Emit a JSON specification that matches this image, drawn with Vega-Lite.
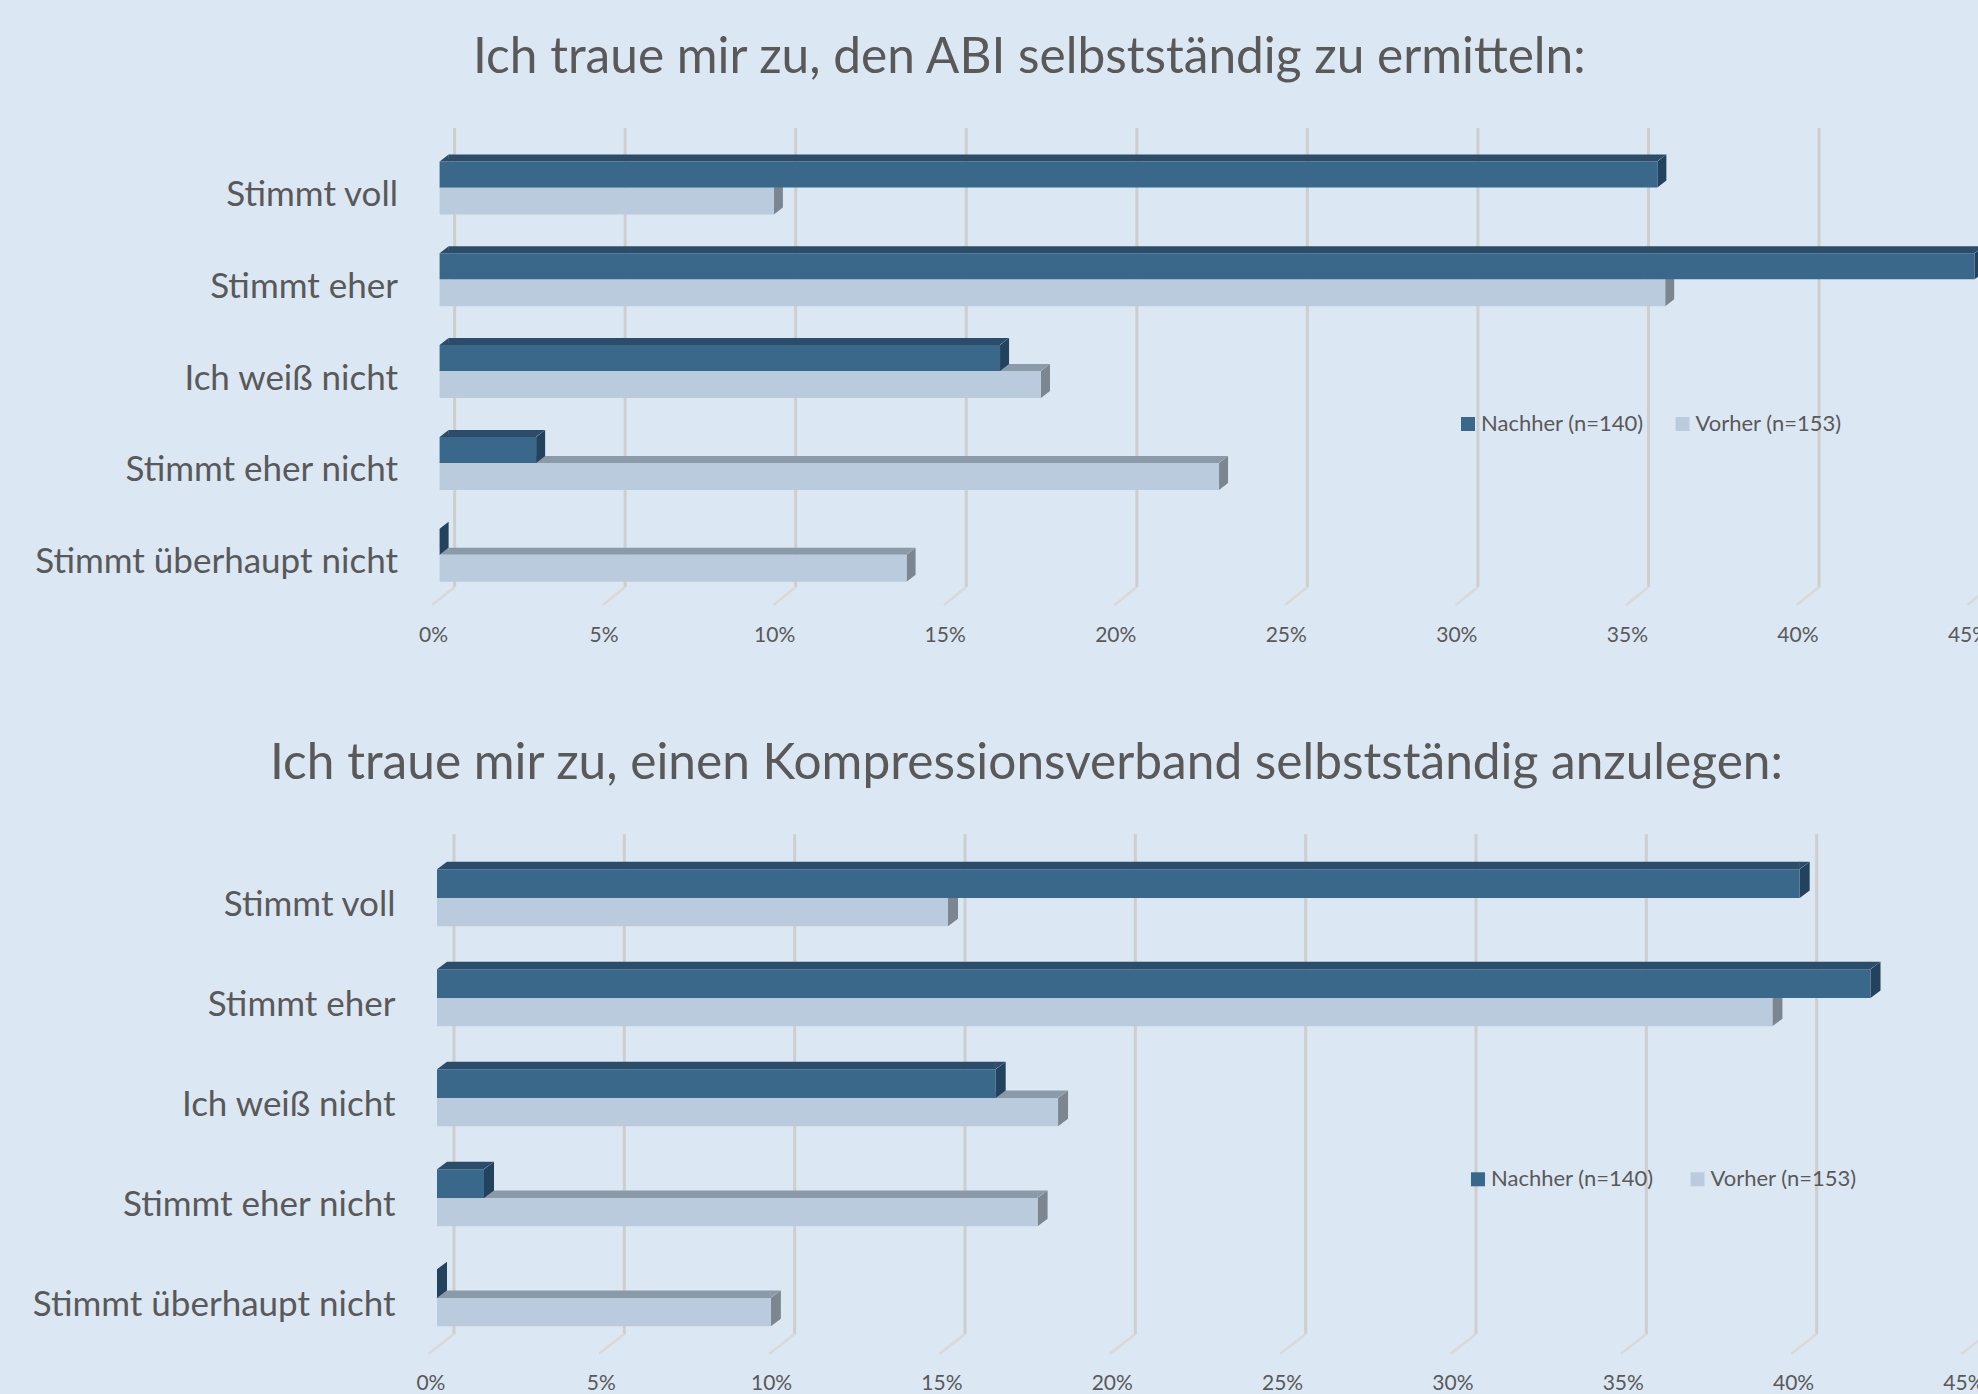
{
"$schema":"https://vega.github.io/schema/vega-lite/v6.json",
"background":"#dbe7f3",
"padding":{"left":0,"top":32,"right":0,"bottom":40},
"bounds":"flush",
"spacing":247.3,
"resolve":{"scale":{"color":"independent"},"legend":{"color":"independent"}},
"config":{"view":{"stroke":null},"font":"Lato",
"axisX":{"domain":false,"ticks":false,"grid":false,"labelFontSize":21,"labelColor":"#595959","labelOverlap":false,"labelAlign":"center"},
"axisY":{"domain":false,"ticks":false,"grid":false,"labelFontSize":35,"labelColor":"#595959","labelLimit":500,"labelBaseline":"middle","minExtent":437,"maxExtent":437},
"title":{"color":"#595959","fontWeight":"normal","fontSize":49.6,"anchor":"start","frame":"group","align":"left"},
"legend":{"orient":"none","direction":"horizontal","title":null,"symbolType":"square","symbolSize":196,"labelFontSize":22,"labelColor":"#595959","symbolStrokeWidth":0,"labelOffset":2,"rowPadding":0,"labelLimit":400}},
"datasets":{
"ticks":[{"tick":0},{"tick":0.05},{"tick":0.1},{"tick":0.15},{"tick":0.2},{"tick":0.25},{"tick":0.3},{"tick":0.35},{"tick":0.4},{"tick":0.45}],
"abi":[
{"kat":"Stimmt voll","series":"Nachher (n=140)","value":0.357},
{"kat":"Stimmt eher","series":"Nachher (n=140)","value":0.45},
{"kat":"Ich weiß nicht","series":"Nachher (n=140)","value":0.1643},
{"kat":"Stimmt eher nicht","series":"Nachher (n=140)","value":0.0283},
{"kat":"Stimmt überhaupt nicht","series":"Nachher (n=140)","value":0},
{"kat":"Stimmt voll","series":"Vorher (n=153)","value":0.098},
{"kat":"Stimmt eher","series":"Vorher (n=153)","value":0.3593},
{"kat":"Ich weiß nicht","series":"Vorher (n=153)","value":0.1763},
{"kat":"Stimmt eher nicht","series":"Vorher (n=153)","value":0.2285},
{"kat":"Stimmt überhaupt nicht","series":"Vorher (n=153)","value":0.1369}],
"kv":[
{"kat":"Stimmt voll","series":"Nachher (n=140)","value":0.40},
{"kat":"Stimmt eher","series":"Nachher (n=140)","value":0.4208},
{"kat":"Ich weiß nicht","series":"Nachher (n=140)","value":0.164},
{"kat":"Stimmt eher nicht","series":"Nachher (n=140)","value":0.0138},
{"kat":"Stimmt überhaupt nicht","series":"Nachher (n=140)","value":0},
{"kat":"Stimmt voll","series":"Vorher (n=153)","value":0.15},
{"kat":"Stimmt eher","series":"Vorher (n=153)","value":0.392},
{"kat":"Ich weiß nicht","series":"Vorher (n=153)","value":0.1823},
{"kat":"Stimmt eher nicht","series":"Vorher (n=153)","value":0.1763},
{"kat":"Stimmt überhaupt nicht","series":"Vorher (n=153)","value":0.098}]
},
"vconcat":[
{"title":{"text":"Ich traue mir zu, den ABI selbstständig zu ermitteln:","dx":36,"offset":43},
"width":1537.6,"height":459,
"layer":[
{"data":{"name":"ticks"},"mark":{"type":"rule","xOffset":15,"strokeWidth":3,"color":"#cecece"},"encoding":{"x":{"field":"tick","type":"quantitative","title":null,"scale":{"domain":[0,0.45],"range":[2.6,1537.6]},"axis":{"values":[0,0.05,0.1,0.15,0.2,0.25,0.3,0.35,0.4,0.45],"format":".0%","labelOffset":-6.6,"labelPadding":37}}}},
{"data":{"name":"abi"},
"encoding":{
"x":{"field":"value","type":"quantitative","title":null,"scale":{"domain":[0,0.45],"range":[2.6,1537.6]},"axis":{"values":[0,0.05,0.1,0.15,0.2,0.25,0.3,0.35,0.4,0.45],"format":".0%","labelOffset":-6.6,"labelPadding":37}},
"y":{"field":"kat","type":"nominal","title":null,"sort":["Stimmt voll","Stimmt eher","Ich weiß nicht","Stimmt eher nicht","Stimmt überhaupt nicht"],"scale":{"paddingInner":0,"paddingOuter":0},"axis":{"labelPadding":39.5,"labelOffset":21}}},
"layer":[
{"data":{"name":"ticks"},"mark":{"type":"point","size":4,"opacity":1,"filled":false,"strokeWidth":2.5,"color":"#d9d9d9","shape":"M15,45.9 L-7.3,63.9"},"encoding":{"x":{"field":"tick","type":"quantitative","scale":{"domain":[0,0.45],"range":[2.6,1537.6]}},"y":{"datum":"Stimmt überhaupt nicht"}}},
{"transform":[{"filter":"datum.series=='Vorher (n=153)'"}],"mark":{"type":"bar","height":7,"yOffset":10.1,"x2Offset":9,"color":"#8b9aa8"},"encoding":{"x2":{"datum":0}}},
{"transform":[{"filter":"datum.series=='Vorher (n=153)'"}],"mark":{"type":"point","size":4,"opacity":1,"filled":true,"color":"#8b9aa8","shape":"M-0.5,13.6 L9,6.6 L9.5,13.6 Z"},"encoding":{"x":{"datum":0,"scale":{"domain":[0,0.45],"range":[2.6,1537.6]}}}},
{"transform":[{"filter":"datum.series=='Vorher (n=153)'"}],"mark":{"type":"point","size":4,"opacity":1,"filled":true,"color":"#8b9aa8","shape":"M-0.5,13.6 L-0.5,6.6 L9,6.6 Z"}},
{"transform":[{"filter":"datum.series=='Vorher (n=153)'"}],"mark":{"type":"point","size":4,"opacity":1,"filled":true,"color":"#7b8690","shape":"M0,13.6 L9,6.6 L9,33.6 L0,40.6 Z"}},
{"transform":[{"filter":"datum.series=='Vorher (n=153)'"}],"mark":{"type":"bar","height":27,"yOffset":27.1},"encoding":{"x2":{"datum":0},"color":{"field":"series","type":"nominal","scale":{"domain":["Nachher (n=140)","Vorher (n=153)"],"range":["#39688b","#bacbde"]},"legend":{"legendX":1020,"legendY":285,"columnPadding":27.5}}}},
{"transform":[{"filter":"datum.series=='Nachher (n=140)' && datum.value>0"}],"mark":{"type":"bar","height":7,"yOffset":-15.9,"x2Offset":9,"color":"#2c4d6a"},"encoding":{"x2":{"datum":0}}},
{"transform":[{"filter":"datum.series=='Nachher (n=140)' && datum.value>0"}],"mark":{"type":"point","size":4,"opacity":1,"filled":true,"color":"#2c4d6a","shape":"M0,-12.4 L9,-19.4 L9.5,-12.4 Z"},"encoding":{"x":{"datum":0,"scale":{"domain":[0,0.45],"range":[2.6,1537.6]}}}},
{"transform":[{"filter":"datum.series=='Nachher (n=140)' && datum.value>0"}],"mark":{"type":"point","size":4,"opacity":1,"filled":true,"color":"#2c4d6a","shape":"M-0.5,-12.4 L-0.5,-19.4 L9,-19.4 Z"}},
{"transform":[{"filter":"datum.series=='Nachher (n=140)'"}],"mark":{"type":"point","size":4,"opacity":1,"filled":true,"color":"#22425e","shape":"M0,-12.4 L9,-19.4 L9,6.6 L0,13.6 Z"}},
{"transform":[{"filter":"datum.series=='Nachher (n=140)'"}],"mark":{"type":"bar","height":26,"yOffset":0.6},"encoding":{"x2":{"datum":0},"color":{"field":"series","type":"nominal","scale":{"domain":["Nachher (n=140)","Vorher (n=153)"],"range":["#39688b","#bacbde"]}}}}
]}
]},
{"title":{"text":"Ich traue mir zu, einen Kompressionsverband selbstständig anzulegen:","dx":-167,"offset":43},
"width":1533,"height":500,
"layer":[
{"data":{"name":"ticks"},"mark":{"type":"rule","xOffset":17,"strokeWidth":3,"color":"#cecece"},"encoding":{"x":{"field":"tick","type":"quantitative","title":null,"scale":{"domain":[0,0.45]},"axis":{"values":[0,0.05,0.1,0.15,0.2,0.25,0.3,0.35,0.4,0.45],"format":".0%","labelOffset":-6.6,"labelPadding":38}}}},
{"data":{"name":"kv"},
"encoding":{
"x":{"field":"value","type":"quantitative","title":null,"scale":{"domain":[0,0.45]},"axis":{"values":[0,0.05,0.1,0.15,0.2,0.25,0.3,0.35,0.4,0.45],"format":".0%","labelOffset":-6.6,"labelPadding":38}},
"y":{"field":"kat","type":"nominal","title":null,"sort":["Stimmt voll","Stimmt eher","Ich weiß nicht","Stimmt eher nicht","Stimmt überhaupt nicht"],"scale":{"paddingInner":0,"paddingOuter":0},"axis":{"labelPadding":42,"labelOffset":21}}},
"layer":[
{"data":{"name":"ticks"},"mark":{"type":"point","size":4,"opacity":1,"filled":false,"strokeWidth":2.5,"color":"#d9d9d9","shape":"M17,49.7 L-8.4,69.4"},"encoding":{"x":{"field":"tick","type":"quantitative","scale":{"domain":[0,0.45]}},"y":{"datum":"Stimmt überhaupt nicht"}}},
{"transform":[{"filter":"datum.series=='Vorher (n=153)'"}],"mark":{"type":"bar","height":7.6,"yOffset":9.9,"x2Offset":10,"color":"#8b9aa8"},"encoding":{"x2":{"datum":0}}},
{"transform":[{"filter":"datum.series=='Vorher (n=153)'"}],"mark":{"type":"point","size":4,"opacity":1,"filled":true,"color":"#8b9aa8","shape":"M-0.5,13.7 L10,6.1 L10.5,13.7 Z"},"encoding":{"x":{"datum":0,"scale":{"domain":[0,0.45]}}}},
{"transform":[{"filter":"datum.series=='Vorher (n=153)'"}],"mark":{"type":"point","size":4,"opacity":1,"filled":true,"color":"#8b9aa8","shape":"M-0.5,13.7 L-0.5,6.1 L10,6.1 Z"}},
{"transform":[{"filter":"datum.series=='Vorher (n=153)'"}],"mark":{"type":"point","size":4,"opacity":1,"filled":true,"color":"#7b8690","shape":"M0,13.7 L10,6.1 L10,34.4 L0,42 Z"}},
{"transform":[{"filter":"datum.series=='Vorher (n=153)'"}],"mark":{"type":"bar","height":28.3,"yOffset":27.85},"encoding":{"x2":{"datum":0},"color":{"field":"series","type":"nominal","scale":{"domain":["Nachher (n=140)","Vorher (n=153)"],"range":["#39688b","#bacbde"]},"legend":{"legendX":1030,"legendY":334,"columnPadding":32.5}}}},
{"transform":[{"filter":"datum.series=='Nachher (n=140)' && datum.value>0"}],"mark":{"type":"bar","height":7.6,"yOffset":-18.8,"x2Offset":10,"color":"#2c4d6a"},"encoding":{"x2":{"datum":0}}},
{"transform":[{"filter":"datum.series=='Nachher (n=140)' && datum.value>0"}],"mark":{"type":"point","size":4,"opacity":1,"filled":true,"color":"#2c4d6a","shape":"M0,-15 L10,-22.6 L10.5,-15 Z"},"encoding":{"x":{"datum":0,"scale":{"domain":[0,0.45]}}}},
{"transform":[{"filter":"datum.series=='Nachher (n=140)' && datum.value>0"}],"mark":{"type":"point","size":4,"opacity":1,"filled":true,"color":"#2c4d6a","shape":"M-0.5,-15 L-0.5,-22.6 L10,-22.6 Z"}},
{"transform":[{"filter":"datum.series=='Nachher (n=140)'"}],"mark":{"type":"point","size":4,"opacity":1,"filled":true,"color":"#22425e","shape":"M0,-15 L10,-22.6 L10,6.1 L0,13.7 Z"}},
{"transform":[{"filter":"datum.series=='Nachher (n=140)'"}],"mark":{"type":"bar","height":28.7,"yOffset":-0.65},"encoding":{"x2":{"datum":0},"color":{"field":"series","type":"nominal","scale":{"domain":["Nachher (n=140)","Vorher (n=153)"],"range":["#39688b","#bacbde"]}}}}
]}
]}
]
}
